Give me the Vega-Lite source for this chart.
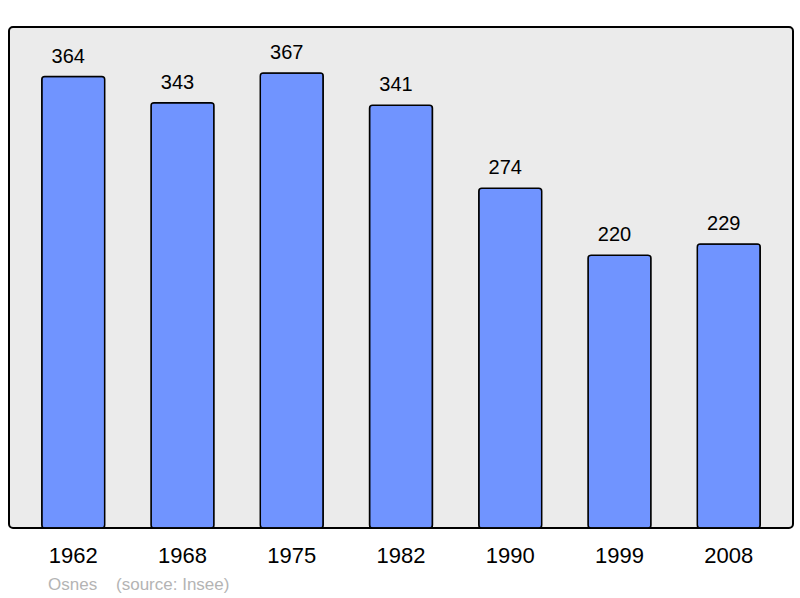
{
  "$schema": "https://vega.github.io/schema/vega-lite/v6.json",
  "autosize": "none",
  "width": 784,
  "height": 501,
  "padding": {"left": 9, "top": 27, "right": 7, "bottom": 70},
  "background": "white",
  "config": {
    "view": {"fill": "#ebebeb", "stroke": "#000000", "strokeWidth": 2, "cornerRadius": 4},
    "font": "Liberation Sans"
  },
  "title": {
    "text": "Osnes\u00a0\u00a0\u00a0\u00a0(source: Insee)",
    "orient": "bottom",
    "anchor": "start",
    "dx": 39,
    "offset": 11,
    "fontSize": 17,
    "fontWeight": "normal",
    "color": "#b4b4b4",
    "font": "Liberation Sans"
  },
  "data": {
    "values": [
      {"year": "1962", "pop": 364},
      {"year": "1968", "pop": 343},
      {"year": "1975", "pop": 367},
      {"year": "1982", "pop": 341},
      {"year": "1990", "pop": 274},
      {"year": "1999", "pop": 220},
      {"year": "2008", "pop": 229}
    ]
  },
  "encoding": {
    "x": {
      "field": "year",
      "type": "nominal",
      "sort": null,
      "scale": {"paddingInner": 0.424, "paddingOuter": 0.3},
      "axis": {
        "title": null,
        "labelAngle": 0,
        "domain": false,
        "ticks": false,
        "labelFontSize": 22,
        "labelColor": "#000000",
        "labelPadding": 17,
        "labelFont": "Liberation Sans"
      }
    },
    "y": {
      "field": "pop",
      "type": "quantitative",
      "scale": {"domain": [0, 404], "nice": false},
      "axis": null
    }
  },
  "layer": [
    {
      "mark": {"type": "bar", "fill": "#7094ff", "stroke": "#000000", "strokeWidth": 1.5, "cornerRadius": 3}
    },
    {
      "mark": {"type": "text", "baseline": "alphabetic", "dx": -5, "dy": -14, "fontSize": 20, "color": "#000000", "font": "Liberation Sans"},
      "encoding": {"text": {"field": "pop", "type": "quantitative"}}
    }
  ]
}
